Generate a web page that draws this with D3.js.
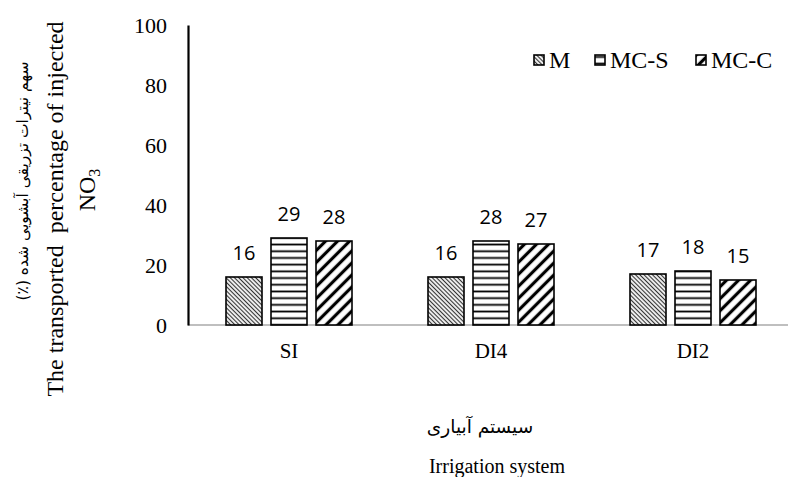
<!DOCTYPE html>
<html><head><meta charset="utf-8">
<script src="https://cdn.jsdelivr.net/npm/d3@7"></script>
<style>
body{margin:0;background:#fff;}
svg{display:block;}
</style></head>
<body><div id="chart"></div>
<script>
const categories = ["SI", "DI4", "DI2"];
const seriesNames = ["M", "MC-S", "MC-C"];
const valuesM = [16, 16, 17];
const valuesMCS = [29, 28, 18];
const valuesMCC = [28, 27, 15];
const yTicks = [0, 20, 40, 60, 80, 100];

const W = 789, H = 477;
const svg = d3.select("#chart").append("svg").attr("width", W).attr("height", H);
const defs = svg.append("defs");

function linePattern(id, size, angle, stroke, sw, horizontal) {
  const p = defs.append("pattern").attr("id", id).attr("patternUnits", "userSpaceOnUse")
    .attr("width", size).attr("height", size);
  if (angle) p.attr("patternTransform", `rotate(${angle})`);
  p.append("rect").attr("width", size).attr("height", size).attr("fill", "#fff");
  if (horizontal) {
    p.append("line").attr("x1", 0).attr("x2", size).attr("y1", size / 2).attr("y2", size / 2)
      .attr("stroke", stroke).attr("stroke-width", sw);
  } else {
    p.append("line").attr("x1", size / 2).attr("x2", size / 2).attr("y1", 0).attr("y2", size)
      .attr("stroke", stroke).attr("stroke-width", sw);
  }
}
linePattern("patM", 3, -45, "#333", 1.2, false);
linePattern("patS", 6.7, 0, "#000", 1.8, true);
linePattern("patC", 8.5, 45, "#000", 3.2, false);
const fills = {"M": "url(#patM)", "MC-S": "url(#patS)", "MC-C": "url(#patC)"};

const data = categories.map((c, i) => ({
  cat: c,
  vals: [
    {s: "M", v: valuesM[i]},
    {s: "MC-S", v: valuesMCS[i]},
    {s: "MC-C", v: valuesMCC[i]}
  ]
}));

const serif = "'Liberation Serif', 'Times New Roman', serif";
const x = d3.scaleBand().domain(categories).range([188, 794]).padding(0);
const bw = x.bandwidth();
const xi = d3.scaleBand().domain(seriesNames).range([(bw - 126) / 2, (bw + 126) / 2]).paddingInner(0.2);
const y = d3.scaleLinear().domain([0, 100]).range([325, 25]);

// x axis (gray)
const xAxis = svg.append("g").attr("transform", `translate(0,${y(0)})`)
  .call(d3.axisBottom(x).tickSize(0).tickPadding(18));
xAxis.select(".domain").attr("stroke", "#bfbfbf").attr("stroke-width", 2)
  .attr("d", `M188,0H788`);
xAxis.selectAll("text").attr("font-family", serif)
  .attr("font-size", 21).attr("fill", "#000");

// bars
const g = svg.append("g");
const groups = g.selectAll("g.grp").data(data).join("g")
  .attr("transform", d => `translate(${x(d.cat)},0)`);
groups.selectAll("rect").data(d => d.vals).join("rect")
  .attr("x", d => xi(d.s))
  .attr("width", xi.bandwidth())
  .attr("y", d => y(d.v))
  .attr("height", d => y(0) - y(d.v))
  .attr("fill", d => fills[d.s])
  .attr("stroke", "#000").attr("stroke-width", 1.6);
groups.selectAll("text").data(d => d.vals).join("text")
  .attr("x", d => xi(d.s) + xi.bandwidth() / 2)
  .attr("y", d => y(d.v) - 17)
  .attr("text-anchor", "middle")
  .attr("font-family", "'Open Sans', Lato, sans-serif")
  .attr("font-size", 20).attr("fill", "#000")
  .text(d => d.v);

// y axis
const yAxis = svg.append("g").attr("transform", `translate(188,0)`)
  .call(d3.axisLeft(y).tickValues(yTicks).tickSize(0).tickPadding(21));
yAxis.select(".domain").attr("stroke", "#000").attr("stroke-width", 2.2);
yAxis.selectAll("text").attr("font-family", serif)
  .attr("font-size", 22).attr("fill", "#000");

// legend
const legendX = [534, 595, 696];
const leg = svg.append("g");
seriesNames.forEach((s, i) => {
  leg.append("rect").attr("x", legendX[i]).attr("y", 55).attr("width", 10).attr("height", 10)
    .attr("fill", fills[s]).attr("stroke", "#000").attr("stroke-width", 1.6);
  leg.append("text").attr("x", legendX[i] + 15).attr("y", 68)
    .attr("font-family", serif)
    .attr("font-size", 24).attr("fill", "#000").text(s);
});

// y title
svg.append("text").attr("transform", "translate(28,181) rotate(-90)")
  .attr("text-anchor", "middle").attr("font-family", "'DejaVu Sans', sans-serif")
  .attr("font-size", 15.5).attr("fill", "#000").attr("direction", "rtl")
  .text("سهم نیترات تزریقی آبشویی شده (٪)");
svg.append("text").attr("transform", "translate(63,209) rotate(-90)")
  .attr("text-anchor", "middle").attr("font-family", serif)
  .attr("font-size", 24).attr("fill", "#000")
  .style("white-space", "pre")
  .text("The transported  percentage of injected");
const no3 = svg.append("text").attr("transform", "translate(95,190) rotate(-90)")
  .attr("text-anchor", "middle").attr("font-family", serif)
  .attr("font-size", 24).attr("fill", "#000");
no3.append("tspan").text("NO");
no3.append("tspan").attr("font-size", 16).attr("dy", 5).text("3");

// x title
svg.append("text").attr("x", 480).attr("y", 433).attr("text-anchor", "middle")
  .attr("font-family", "'DejaVu Sans', sans-serif").attr("font-size", 18.5)
  .attr("fill", "#000").attr("direction", "rtl").text("سیستم آبیاری");
svg.append("text").attr("x", 497).attr("y", 473).attr("text-anchor", "middle")
  .attr("font-family", serif).attr("font-size", 20).attr("fill", "#000")
  .text("Irrigation system");
</script></body></html>
